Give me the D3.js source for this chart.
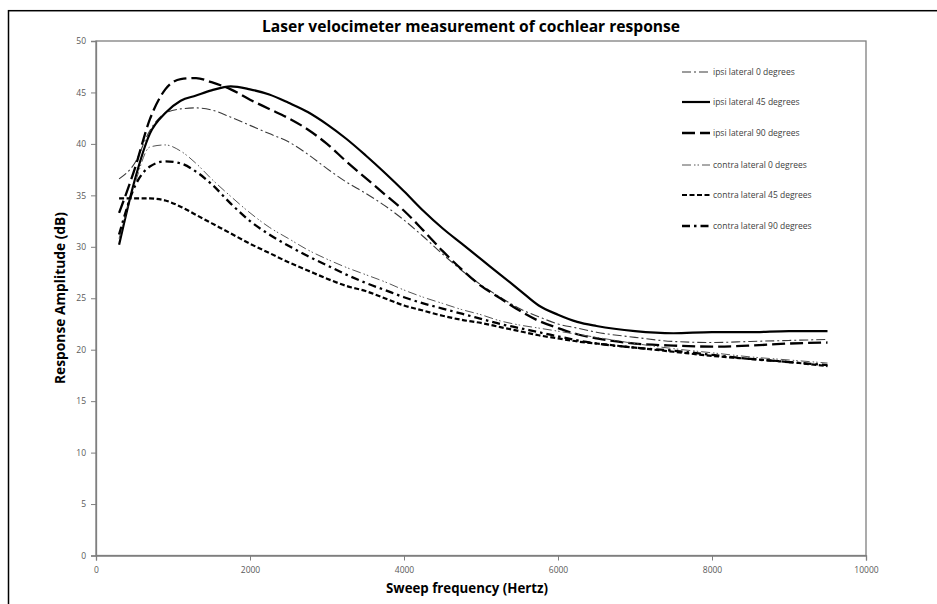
<!DOCTYPE html>
<html>
<head>
<meta charset="utf-8">
<script src="https://cdn.jsdelivr.net/npm/d3@7"></script>
<style>
    body { margin: 0; background: #fff; }
    svg { display: block; }
    .tick text { font-family: "Open Sans", sans-serif; font-size: 8.5px; fill: #595959; }
    .axisTitle { font-family: "Open Sans", sans-serif; font-weight: bold; fill: #000; }
    .legendText { font-family: "Open Sans", sans-serif; font-size: 8.5px; fill: #404040; }
</style>
</head>
<body>
<svg id="chart" width="937" height="604"></svg>
<script>

/*
    Sweep frequencies (Hz) shared by every series
 */
var freq = [300, 500, 700, 900, 1100, 1300, 1500, 1750, 2000, 2250, 2500, 2750, 3000, 3250, 3500, 3750,
    4000, 4250, 4500, 4750, 5000, 5250, 5500, 5750, 6000, 6250, 6500, 7000, 7500, 8000, 8500, 9000, 9500];

/*
    Response amplitude (dB)
 */
var ipsi0 = [36.6, 38.1, 41.3, 43.0, 43.4, 43.5, 43.3, 42.6, 41.8, 41.0, 40.2, 39.0, 37.6, 36.3, 35.2, 34.0,
    32.6, 31.0, 29.3, 27.7, 26.3, 25.1, 24.0, 23.2, 22.5, 22.1, 21.7, 21.2, 20.8, 20.7, 20.8, 20.9, 21.0];
var ipsi45 = [30.2, 36.4, 41.0, 43.0, 44.2, 44.7, 45.2, 45.6, 45.3, 44.8, 44.0, 43.1, 41.9, 40.5, 38.9, 37.2,
    35.4, 33.5, 31.8, 30.3, 28.8, 27.3, 25.8, 24.3, 23.4, 22.7, 22.3, 21.8, 21.6, 21.7, 21.7, 21.8, 21.8];
var ipsi90 = [33.3, 37.5, 42.4, 45.3, 46.3, 46.4, 46.0, 45.3, 44.3, 43.4, 42.5, 41.4, 40.0, 38.3, 36.7, 35.1,
    33.5, 31.6, 29.6, 27.8, 26.2, 25.0, 23.8, 22.8, 22.1, 21.5, 21.1, 20.6, 20.4, 20.3, 20.4, 20.6, 20.7];
var contra0 = [30.8, 36.0, 39.7, 39.9, 39.3, 38.1, 36.6, 34.9, 33.3, 31.9, 30.8, 29.7, 28.8, 28.0, 27.3, 26.6,
    25.8, 25.1, 24.5, 23.9, 23.4, 22.8, 22.4, 22.1, 21.8, 21.5, 21.2, 20.6, 20.1, 19.7, 19.3, 19.0, 18.7];
var contra45 = [34.7, 34.7, 34.7, 34.5, 33.9, 33.1, 32.3, 31.3, 30.3, 29.4, 28.5, 27.7, 26.9, 26.2, 25.7, 25.0,
    24.3, 23.8, 23.3, 22.9, 22.6, 22.2, 21.8, 21.4, 21.1, 20.8, 20.6, 20.2, 19.8, 19.4, 19.1, 18.8, 18.4];
var contra90 = [31.2, 35.8, 37.8, 38.3, 38.1, 37.3, 36.1, 34.2, 32.5, 31.2, 30.1, 29.1, 28.2, 27.3, 26.5, 25.8,
    25.1, 24.5, 24.0, 23.5, 23.0, 22.5, 22.1, 21.7, 21.3, 20.9, 20.6, 20.2, 19.9, 19.5, 19.1, 18.8, 18.5];

var seriesNames = ["ipsi lateral 0 degrees", "ipsi lateral 45 degrees", "ipsi lateral 90 degrees",
    "contra lateral 0 degrees", "contra lateral 45 degrees", "contra lateral 90 degrees"];
var seriesValues = [ipsi0, ipsi45, ipsi90, contra0, contra45, contra90];

var xTicks = [0, 2000, 4000, 6000, 8000, 10000];
var yTicks = [0, 5, 10, 15, 20, 25, 30, 35, 40, 45, 50];

/*
    Line styles, in the same order as the series
 */
var styles = [
    {width: 1.1, dash: "9,3,2,3", color: "#3a3a3a"},
    {width: 2.2, dash: null, color: "#000"},
    {width: 2.3, dash: "13,5", color: "#000"},
    {width: 1, dash: "9,3,1.5,2,1.5,3", color: "#555"},
    {width: 2.2, dash: "5,2.5", color: "#000"},
    {width: 2.3, dash: "8,4,2.5,4", color: "#000"}
];

var svg = d3.select("#chart");

// plot area edges (px)
var plotLeft = 96, plotRight = 866, plotTop = 41, plotBottom = 555.5;

var x = d3.scaleLinear().domain([0, 10000]).range([plotLeft, plotRight]);
var y = d3.scaleLinear().domain([0, 50]).range([plotBottom, plotTop]);

// outer chart border
svg.append("rect")
    .attr("x", 8.5).attr("y", 10.7)
    .attr("width", 940).attr("height", 600)
    .attr("fill", "none")
    .attr("stroke", "#000")
    .attr("stroke-width", 1.5);

// plot area border
svg.append("rect")
    .attr("x", plotLeft).attr("y", plotTop)
    .attr("width", plotRight - plotLeft).attr("height", plotBottom - plotTop)
    .attr("fill", "none")
    .attr("stroke", "#7f7f7f")
    .attr("stroke-width", 1.3);

/*
    Axes
 */
var xAxis = svg.append("g")
    .attr("transform", "translate(0," + plotBottom + ")")
    .call(d3.axisBottom(x).tickValues(xTicks).tickSize(5).tickPadding(6).tickFormat(d3.format("d")));

var yAxis = svg.append("g")
    .attr("transform", "translate(" + plotLeft + ",0)")
    .call(d3.axisLeft(y).tickValues(yTicks).tickSize(5).tickPadding(5).tickFormat(d3.format("d")));

[xAxis, yAxis].forEach(function(a){
    a.select(".domain").attr("stroke", "#7f7f7f").attr("stroke-width", 1.3);
    a.selectAll(".tick line").attr("stroke", "#7f7f7f");
});

/*
    Lines
 */
var line = d3.line()
    .x(function(d){ return x(d[0]); })
    .y(function(d){ return y(d[1]); })
    .curve(d3.curveMonotoneX);

svg.append("g")
    .selectAll("path")
    .data(seriesValues)
    .enter()
    .append("path")
    .attr("d", function(vals){
        return line(freq.map(function(f, i){ return [f, vals[i]]; }));
    })
    .attr("fill", "none")
    .attr("stroke", function(d, i){ return styles[i].color; })
    .attr("stroke-width", function(d, i){ return styles[i].width; })
    .attr("stroke-dasharray", function(d, i){ return styles[i].dash; });

/*
    Legend
 */
var legend = svg.append("g")
    .selectAll("g")
    .data(seriesNames)
    .enter()
    .append("g")
    .attr("transform", function(d, i){
        return "translate(682," + [72, 102, 133, 165, 195, 226][i] + ")";
    });

legend.append("line")
    .attr("x1", 0).attr("x2", 28)
    .attr("y1", 0).attr("y2", 0)
    .attr("stroke", function(d, i){ return styles[i].color; })
    .attr("stroke-width", function(d, i){ return styles[i].width; })
    .attr("stroke-dasharray", function(d, i){ return styles[i].dash; });

legend.append("text")
    .attr("class", "legendText")
    .attr("x", 31)
    .attr("dy", "0.35em")
    .text(function(d){ return d; });

/*
    Titles
 */
svg.append("text")
    .attr("class", "axisTitle")
    .attr("x", 471).attr("y", 32)
    .attr("text-anchor", "middle")
    .attr("font-size", 16)
    .attr("textLength", 418)
    .attr("lengthAdjust", "spacingAndGlyphs")
    .text("Laser velocimeter measurement of cochlear response");

svg.append("text")
    .attr("class", "axisTitle")
    .attr("x", 467).attr("y", 593)
    .attr("text-anchor", "middle")
    .attr("font-size", 14)
    .attr("textLength", 162)
    .attr("lengthAdjust", "spacingAndGlyphs")
    .text("Sweep frequency (Hertz)");

svg.append("text")
    .attr("class", "axisTitle")
    .attr("transform", "translate(65,298) rotate(-90)")
    .attr("text-anchor", "middle")
    .attr("font-size", 14)
    .attr("textLength", 172)
    .attr("lengthAdjust", "spacingAndGlyphs")
    .text("Response Amplitude (dB)");

</script>
</body>
</html>
